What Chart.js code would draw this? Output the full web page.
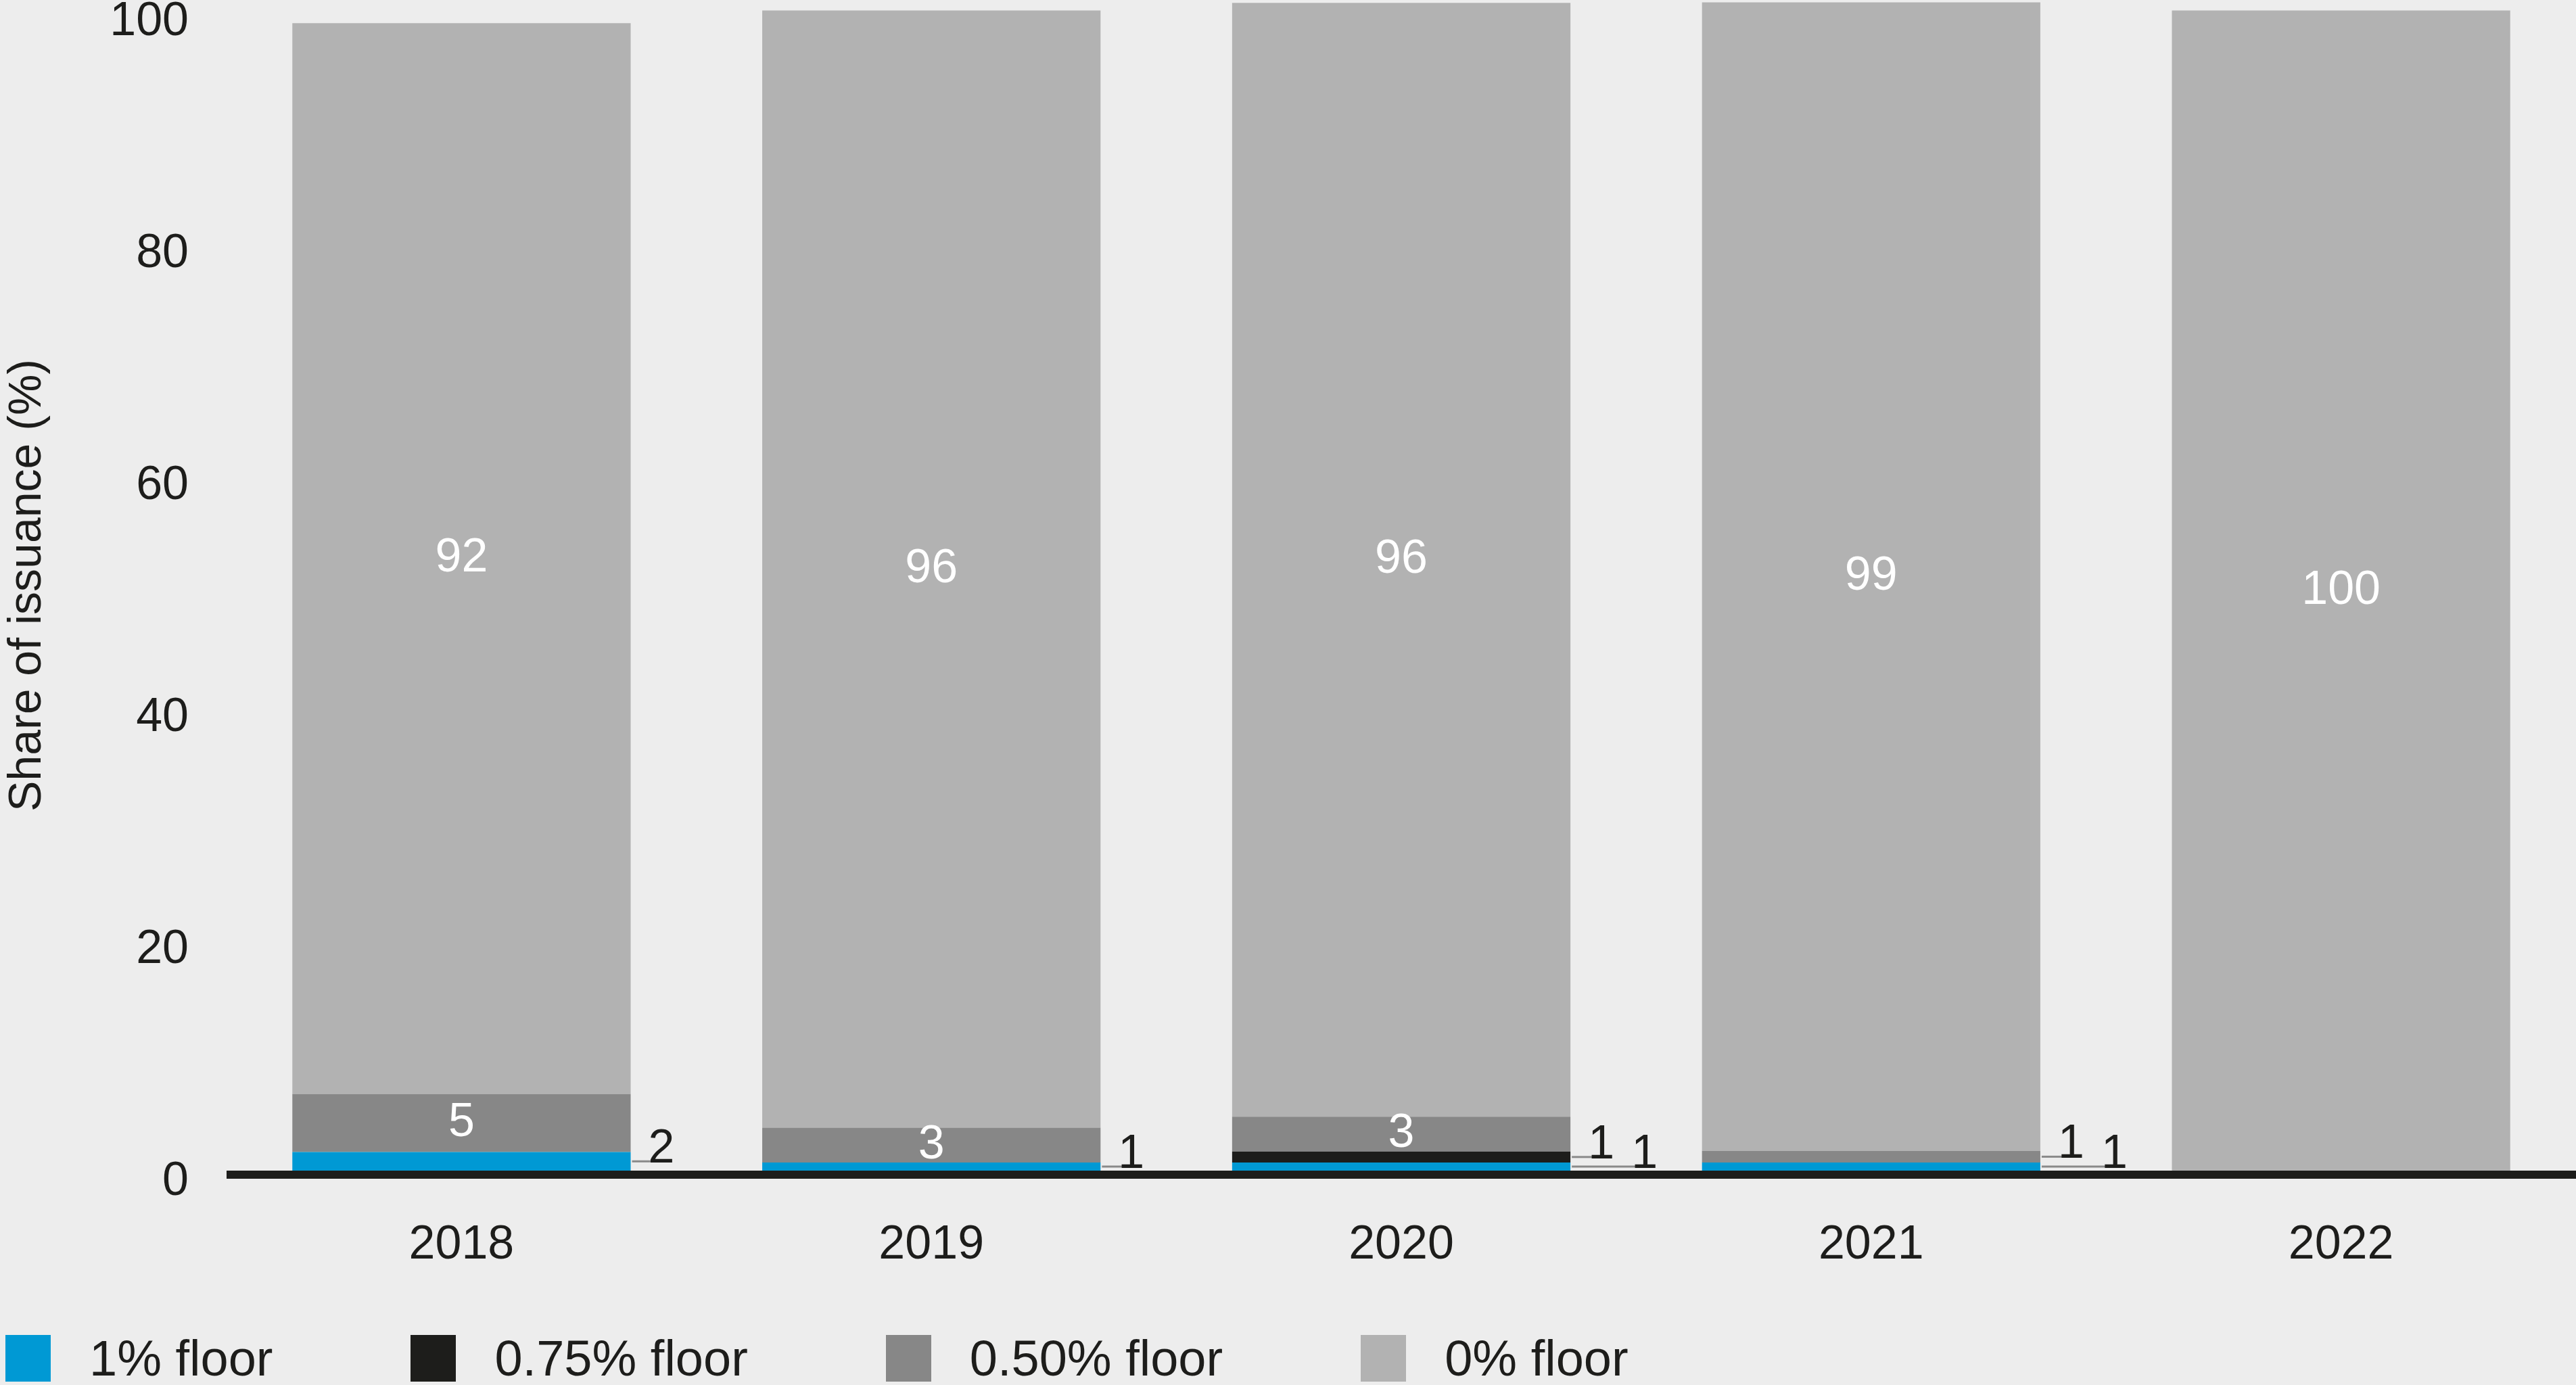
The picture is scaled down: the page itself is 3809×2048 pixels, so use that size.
<!DOCTYPE html>
<html>
<head>
<meta charset="utf-8">
<script src="https://cdn.jsdelivr.net/npm/chart.js@4.4.1/dist/chart.umd.min.js"></script>
<style>
  html, body { margin: 0; padding: 0; background: #ededed; }
  #wrap { position: relative; width: 3809px; height: 2048px; }
  #chartBox { position: absolute; left: 0; top: 0; width: 3809px; height: 1954px; }
  #legend { position: absolute; left: 8px; top: 1974px; display: flex;
            font-family: "Liberation Sans", Arial, sans-serif; font-size: 74px; color: #1d1d1b; }
  .item { display: flex; align-items: center; height: 69px; margin-right: 204px; }
  .swatch { width: 67px; height: 69px; margin-right: 57px; }
</style>
</head>
<body>
<div id="wrap">
  <div id="chartBox"><canvas id="myChart"></canvas></div>
  <div id="legend"></div>
</div>
<script>
const years = ["2018", "2019", "2020", "2021", "2022"];
const floor1 = [1.6, 0.7, 0.7, 0.7, 0];
const floor075 = [0, 0, 0.95, 0, 0];
const floor050 = [5, 3, 3, 1, 0];
const floor0 = [92.3, 96.3, 96, 99, 100];
const yTicks = [0, 20, 40, 60, 80, 100];

const ink = "#1d1d1b";
const font = "'Liberation Sans', Arial, sans-serif";

// numbers on the bars, small ones pulled out to the right with a leader
const floorLabels = {
  id: "floorLabels",
  afterDatasetsDraw(chart) {
    const ctx = chart.ctx;
    const area = chart.chartArea;
    const zero = chart.scales.y.getPixelForValue(0);
    ctx.save();
    ctx.fillStyle = ink;
    ctx.fillRect(area.left, zero, area.right - area.left, 12);
    ctx.font = "70px " + font;
    years.forEach((year, i) => {
      const outside = [];
      chart.data.datasets.forEach((ds, d) => {
        const value = ds.data[i];
        if (!value) return;
        const bar = chart.getDatasetMeta(d).data[i];
        const top = Math.max(bar.y, area.top);
        const mid = (top + bar.base) / 2;
        if (value >= 2.5) {
          ctx.fillStyle = "#ffffff";
          ctx.textAlign = "center";
          ctx.textBaseline = "middle";
          ctx.fillText(Math.round(value), bar.x, mid);
        } else {
          outside.push({ value: value, mid: mid, right: bar.x + bar.width / 2 });
        }
      });
      outside.sort((a, b) => a.mid - b.mid);
      outside.forEach((o, k) => {
        const end = o.right + 32 + k * 64;
        ctx.strokeStyle = "#8a8a8a";
        ctx.lineWidth = 3;
        ctx.beginPath();
        ctx.moveTo(o.right + 2, o.mid);
        ctx.lineTo(end, o.mid);
        ctx.stroke();
        ctx.fillStyle = ink;
        ctx.textAlign = "left";
        ctx.textBaseline = "alphabetic";
        ctx.fillText(Math.round(o.value), end - 6, o.mid + 2);
      });
    });
    ctx.restore();
  },
};

const ctx = document.getElementById("myChart");

const chart = new Chart(ctx, {
  type: "bar",
  data: {
    labels: years,
    datasets: [
      { label: "1% floor", data: floor1, backgroundColor: "#0099d4" },
      { label: "0.75% floor", data: floor075, backgroundColor: "#1d1d1b" },
      { label: "0.50% floor", data: floor050, backgroundColor: "#878787" },
      { label: "0% floor", data: floor0, backgroundColor: "#b2b2b2" },
    ],
  },
  options: {
    responsive: true,
    maintainAspectRatio: false,
    animation: false,
    datasets: {
      bar: { barPercentage: 0.72, categoryPercentage: 1, borderWidth: 0 },
    },
    layout: { padding: { top: 0, right: 0, bottom: 1, left: 0 } },
    plugins: {
      legend: { display: false },
      tooltip: { enabled: false },
    },
    scales: {
      x: {
        stacked: true,
        grid: { display: false, drawTicks: false },
        border: { display: false },
        ticks: { color: ink, padding: 69, font: { size: 70, family: font } },
      },
      y: {
        stacked: true,
        min: 0,
        max: 100.9,
        grid: { display: false, drawTicks: false },
        border: { display: false },
        afterFit: (scale) => {
          scale.width = 335;
          scale.paddingTop = 0;
        },
        afterBuildTicks: (scale) => {
          scale.ticks = yTicks.map((v) => ({ value: v }));
        },
        ticks: {
          color: ink,
          padding: 56,
          labelOffset: 17,
          font: { size: 70, family: font },
        },
        title: {
          display: true,
          text: "Share of issuance (%)",
          color: ink,
          padding: { top: 0, bottom: 0 },
          font: { size: 68, family: font },
        },
      },
    },
  },
  plugins: [floorLabels],
});

const legendEl = document.getElementById("legend");
chart.data.datasets.forEach((ds) => {
  const item = document.createElement("div");
  item.className = "item";
  const sw = document.createElement("span");
  sw.className = "swatch";
  sw.style.background = ds.backgroundColor;
  const txt = document.createElement("span");
  txt.textContent = ds.label;
  item.appendChild(sw);
  item.appendChild(txt);
  legendEl.appendChild(item);
});
</script>
</body>
</html>
